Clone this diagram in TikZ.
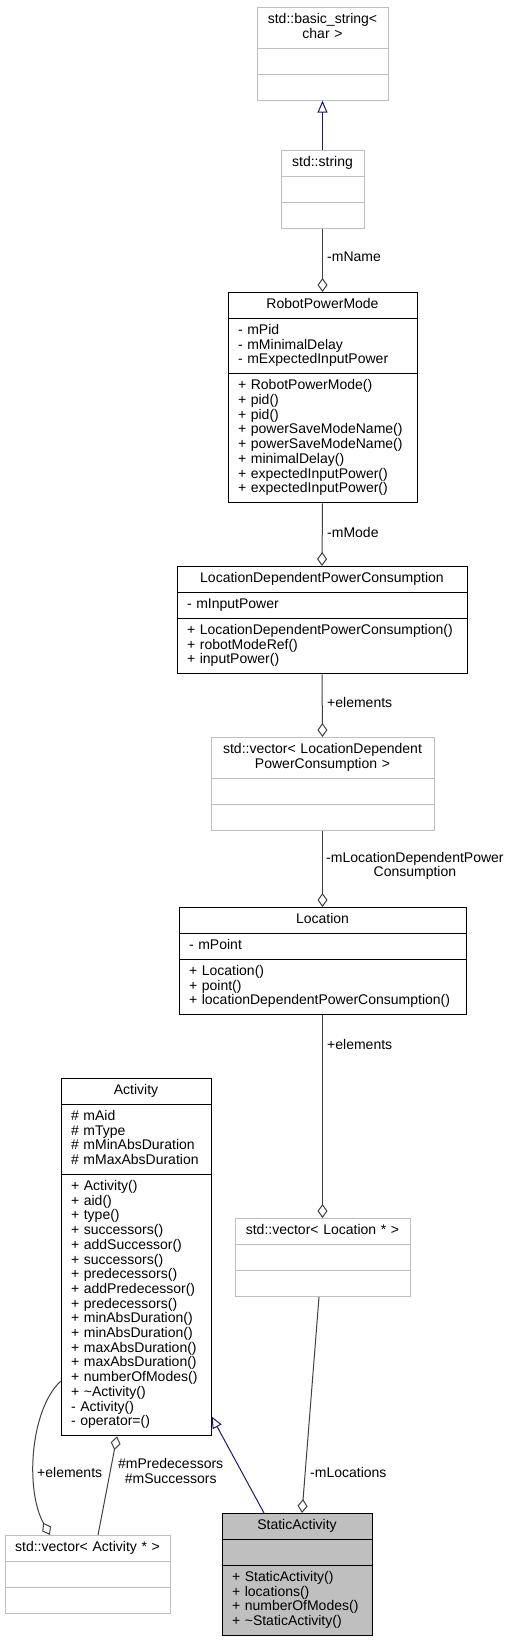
\documentclass[tikz,border=0pt]{standalone}
\usepackage{fontspec}
\setmainfont{Liberation Sans}
\usetikzlibrary{shapes.multipart,arrows.meta}

\definecolor{grey75}{HTML}{BFBFBF}
\definecolor{grey25}{HTML}{404040}
\definecolor{midnight}{HTML}{191970}
\newcommand\umlfont{\fontsize{14}{14.7}\selectfont}
\newcommand\ctitle[1]{\parindent=0pt\centering\strut#1\strut\par}
\newcommand\cmembers{\parindent=0pt\raggedright\strut}

\tikzset{
  umlclass/.style={rectangle split, rectangle split parts=3, draw=black, fill=white,
    line width=1pt, text width=#1, inner xsep=10pt, inner ysep=5.15pt,
    anchor=north, font=\umlfont},
  extclass/.style={umlclass=#1, draw=grey75},
  curclass/.style={umlclass=#1, fill=grey75},
  aggr/.style={draw=grey25, line width=1pt, -{Diamond[open, length=14pt, width=10pt]}},
  inherit/.style={draw=midnight, line width=1pt, -{Triangle[open, length=12pt, width=10pt]}},
  lbl/.style={inner sep=0pt, anchor=west, align=center, font=\umlfont},
}

\begin{document}
\begin{tikzpicture}[x=1pt,y=-1pt]
	\useasboundingbox (0,0) rectangle (512,1640);

	\draw (322.5,7) node [extclass=111pt] (bstr){\ctitle{std::basic\_string<\\char >}
		\nodepart{second}\cmembers\nodepart{third}\cmembers};
	\draw (322.5,150) node [extclass=63pt] (str){\ctitle{std::string}
		\nodepart{second}\cmembers\nodepart{third}\cmembers};
	\draw (322.5,292) node [umlclass=169pt] (rpm){\ctitle{RobotPowerMode}
		\nodepart{second}\cmembers - mPid\\- mMinimalDelay\\- mExpectedInputPower\strut
		\nodepart{third}\cmembers + RobotPowerMode()\\+ pid()\\+ pid()\\+ powerSaveModeName()\\+ powerSaveModeName()\\+ minimalDelay()\\+ expectedInputPower()\\+ expectedInputPower()\strut};
	\draw (322,566) node [umlclass=270pt] (ldpc){\ctitle{LocationDependentPowerConsumption}
		\nodepart{second}\cmembers - mInputPower
		\nodepart{third}\cmembers +~LocationDependentPowerConsumption()\\+ robotModeRef()\\+ inputPower()\strut};
	\draw (322.5,737) node [extclass=203pt] (vldpc){\ctitle{std::vector< LocationDependent\\PowerConsumption >}
		\nodepart{second}\cmembers\nodepart{third}\cmembers};
	\draw (322.5,907) node [umlclass=267pt] (loc){\ctitle{Location}
		\nodepart{second}\cmembers - mPoint
		\nodepart{third}\cmembers + Location()\\+ point()\\+~locationDependentPowerConsumption()\strut};
	\draw (322.5,1218) node [extclass=155pt] (vloc){\ctitle{std::vector< Location * >}
		\nodepart{second}\cmembers\nodepart{third}\cmembers};
	\draw (136,1078) node [umlclass=130pt] (act){\ctitle{Activity}
		\nodepart{second}\cmembers \#~mAid\\\#~mType\\\#~mMinAbsDuration\\\#~mMaxAbsDuration\strut
		\nodepart{third}\cmembers + Activity()\\+ aid()\\+ type()\\+ successors()\\+ addSuccessor()\\+ successors()\\+ predecessors()\\+ addPredecessor()\\+ predecessors()\\+ minAbsDuration()\\+ minAbsDuration()\\+ maxAbsDuration()\\+ maxAbsDuration()\\+ numberOfModes()\\+ \textasciitilde Activity()\\- Activity()\\- operator=()\strut};
	\draw (87.5,1535) node [extclass=145pt] (vact){\ctitle{std::vector< Activity * >}
		\nodepart{second}\cmembers\nodepart{third}\cmembers};
	\draw (297,1513) node [curclass=130pt] (sact){\ctitle{StaticActivity}
		\nodepart{second}\cmembers
		\nodepart{third}\cmembers + StaticActivity()\\+ locations()\\+ numberOfModes()\\+ \textasciitilde StaticActivity()\strut};

	\draw (327,257) node [lbl] (lname){-mName};
	\draw (327,532) node [lbl] (lmode){-mMode};
	\draw (327,702) node [lbl] (lelem1){+elements};
	\draw (326,866) node [lbl] (lldpc){-mLocationDependentPower\\Consumption};
	\draw (327,1044) node [lbl] (lelem2){+elements};
	\draw (310,1472) node [lbl] (llocs){-mLocations};
	\draw (37,1472) node [lbl] (lelem3){+elements};
	\draw (118,1471) node [lbl] (lpred){\#mPredecessors\\\#mSuccessors};

	\draw
	(str.north) edge[inherit] (bstr.south)
	(str.south) edge[aggr] (rpm.north)
	(rpm.south) edge[aggr] (ldpc.north)
	(ldpc.south) edge[aggr] (vldpc.north)
	(vldpc.south) edge[aggr] (loc.north)
	(loc.south) edge[aggr] (vloc.north)
	([xshift=-3.5pt]vloc.south) edge[aggr] ([xshift=5pt]sact.north)
	([xshift=-33pt]sact.north) edge[inherit] ([yshift=20pt]act.south east)
	([xshift=10.5pt]vact.north) edge[aggr] ([xshift=-19pt]act.south);
	\draw[aggr] ([yshift=55pt]act.south west) .. controls (30,1410) and (25,1490) .. ([xshift=-37.5pt]vact.north);
\end{tikzpicture}
\end{document}
